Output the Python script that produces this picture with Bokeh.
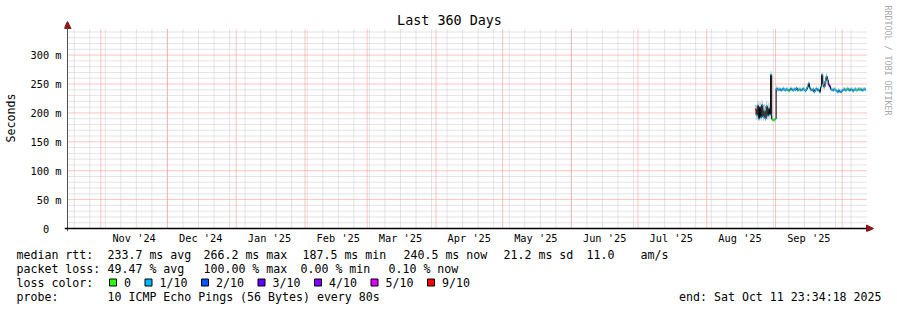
import math
from datetime import datetime, timedelta

from bokeh.plotting import figure
from bokeh.models import (Range1d, FixedTicker, DatetimeTickFormatter, Label,
                          Arrow, NormalHead, ColumnDataSource)
from bokeh.layouts import column
from bokeh.core.properties import value
from bokeh.embed import file_html
from bokeh.resources import INLINE

# ---------------------------------------------------------------- data
end_time = datetime(2025, 10, 11, 23, 34, 18)
span_days = 360
start_time = end_time - timedelta(days=span_days)

sample_start = datetime(2025, 8, 23, 0, 0)
sample_step_hours = 12

median_rtt_ms = [
    206, 196, 213, 190, 210, 192, 214, 193, 204, 190,
    212, 195, 208, 197, 266, 189, 187.5, 188, 190, 242,
    241, 240, 241, 239, 240, 242, 240, 239, 241, 240,
    238, 240, 242, 240, 239, 241, 240, 243, 239, 240,
    241, 239, 240, 242, 240, 238, 241, 245, 251, 243,
    240, 239, 241, 236, 240, 242, 239, 240, 236, 245,
    266, 250, 245, 255, 263, 257, 249, 246, 241, 240,
    239, 241, 240, 238, 236, 239, 237, 236, 238, 240,
    241, 239, 240, 242, 240, 239, 241, 240, 238, 240,
    241, 239, 240, 241, 240, 241, 239, 240, 241, 240.5,
]
smoke_low_ms = [
    198, 188, 195, 186, 192, 187, 196, 187, 190, 186,
    194, 188, 192, 189, 200, 186, 185, 185, 186, 236,
    237, 237, 238, 236, 237, 238, 237, 236, 238, 237,
    235, 237, 238, 237, 236, 238, 237, 239, 236, 237,
    238, 236, 237, 238, 237, 235, 238, 240, 243, 239,
    237, 236, 238, 233, 237, 238, 236, 237, 233, 240,
    246, 242, 240, 247, 250, 250, 244, 242, 238, 237,
    236, 238, 237, 235, 233, 236, 234, 233, 235, 237,
    238, 236, 237, 238, 237, 236, 238, 237, 235, 237,
    238, 236, 237, 238, 237, 238, 236, 237, 238, 237,
]
smoke_high_ms = [
    214, 208, 220, 205, 219, 206, 222, 209, 216, 203,
    220, 211, 218, 214, 272, 195, 190, 191, 194, 247,
    245, 244, 245, 243, 244, 246, 244, 243, 245, 244,
    242, 244, 246, 244, 243, 245, 244, 247, 243, 244,
    245, 243, 244, 246, 244, 242, 245, 249, 255, 247,
    244, 243, 245, 241, 244, 246, 243, 244, 241, 249,
    270, 256, 249, 260, 268, 262, 253, 250, 245, 244,
    243, 245, 244, 242, 240, 243, 241, 240, 242, 244,
    245, 243, 244, 246, 244, 243, 245, 244, 242, 244,
    245, 243, 244, 245, 244, 245, 243, 244, 245, 244,
]
loss_tenths = [
    9, 1, 1, 1, 2, 1, 1, 1, 1, 1,
    1, 1, 1, 1, 1, 0, 0, 0, 1, 1,
    1, 1, 1, 1, 1, 1, 1, 1, 1, 1,
    0, 1, 1, 1, 1, 1, 1, 1, 1, 1,
    0, 1, 1, 1, 1, 1, 1, 1, 1, 1,
    1, 1, 1, 1, 1, 1, 1, 1, 1, 1,
    1, 1, 1, 1, 1, 1, 3, 3, 1, 1,
    1, 1, 1, 1, 1, 1, 1, 1, 1, 1,
    1, 1, 1, 0, 1, 1, 1, 1, 1, 1,
    1, 0, 1, 1, 0, 1, 1, 1, 1, 1,
]

loss_levels = [0, 1, 2, 3, 4, 5, 9]
loss_labels = ["0", "1/10", "2/10", "3/10", "4/10", "5/10", "9/10"]
loss_colors = ["#26ff00", "#00b8ff", "#0059ff", "#5e00ff", "#7e00ff", "#dd00ff", "#ff0000"]

y_ticks = [0, 50, 100, 150, 200, 250, 300]
y_tick_labels = ["0\u00a0\u00a0", "50 m", "100 m", "150 m", "200 m", "250 m", "300 m"]
y_grid_top = 346.06

title_text = "Last 360 Days"
y_axis_title = "Seconds"
watermark = "RRDTOOL / TOBI OETIKER"

stat_rows = [
    [("median rtt:", 16), ("233.7 ms avg", 107), ("266.2 ms max", 203),
     ("187.5 ms min", 302), ("240.5 ms now", 403), ("21.2 ms sd", 503),
     ("11.0", 586), ("am/s", 640)],
    [("packet loss:", 16), ("49.47 % avg", 107), ("100.00 % max", 203),
     ("0.00 % min", 300), ("0.10 % now", 388)],
]
loss_row_title = "loss color:"
probe_title = "probe:"
probe_text = "10 ICMP Echo Pings (56 Bytes) every 80s"
end_text = "end: Sat Oct 11 23:34:18 2025"

# ---------------------------------------------------------------- helpers
EPOCH = datetime(1970, 1, 1)


def to_ms(d):
    return (d - EPOCH).total_seconds() * 1000.0


DAY_MS = 86400000.0
MONO = "DejaVu Sans Mono"

W = 897
H_MAIN = 248
H_LEG = 310 - H_MAIN
AXIS_X = 66          # pixel column of the y axis
AXIS_Y = 228         # pixel row of the x axis
PAD = 3              # axis lines overshoot the origin by this much
FRAME_LEFT = AXIS_X - PAD
FRAME_TOP = 4
FRAME_BOTTOM = AXIS_Y + PAD
FRAME_W = W - FRAME_LEFT
FRAME_H = FRAME_BOTTOM - FRAME_TOP
PX_PER_DAY = 800.0 / span_days
MS_PER_PX = y_grid_top / 200.0
PX_MS = DAY_MS / PX_PER_DAY   # time per pixel

t0 = to_ms(start_time)
t1 = to_ms(end_time)
x_start = t0 - PAD * PX_MS
x_end = x_start + FRAME_W * PX_MS
y_start = -PAD * MS_PER_PX
y_end = y_start + FRAME_H * MS_PER_PX
x_axis_end = t1 + 7 * PX_MS
y_axis_end = (AXIS_Y - 21) * MS_PER_PX

times = [to_ms(sample_start + timedelta(hours=sample_step_hours * i)) for i in range(len(median_rtt_ms))]
half = sample_step_hours * 3600000.0 / 2
color_of = dict(zip(loss_levels, loss_colors))

# grid positions derived from the calendar
sundays = []
d = datetime(start_time.year, start_time.month, start_time.day) + timedelta(days=1)
while d.weekday() != 6:
    d += timedelta(days=1)
while to_ms(d) < t1:
    sundays.append(to_ms(d))
    d += timedelta(days=7)

month_starts = []
yy, mm = start_time.year, start_time.month + 1
while True:
    if mm > 12:
        yy, mm = yy + 1, 1
    v = to_ms(datetime(yy, mm, 1))
    if v >= t1:
        break
    month_starts.append(v)
    mm += 1
label_ticks = [v + 15 * DAY_MS for v in month_starts if v + 15 * DAY_MS < t1]

minor_y = [v for v in range(10, int(y_grid_top), 10) if v % 50 != 0]
major_y = [v for v in y_ticks if v > 0]

# ---------------------------------------------------------------- main figure
p = figure(width=W, height=H_MAIN, x_axis_type="datetime",
           x_range=Range1d(x_start, x_end), y_range=Range1d(y_start, y_end),
           output_backend="svg", toolbar_location=None, frame_align=False,
           min_border_left=FRAME_LEFT, min_border_right=0,
           min_border_top=FRAME_TOP, min_border_bottom=H_MAIN - FRAME_BOTTOM)
p.xgrid.visible = False
p.ygrid.visible = False
p.outline_line_color = None
p.background_fill_color = "white"
p.border_fill_color = "white"

minor_col = "#c8c8c8"
major_col = "#ff8888"
p.segment(x0=sundays, x1=sundays, y0=0, y1=y_grid_top, line_color=minor_col,
          line_dash="1 1", line_width=1)
p.segment(x0=t0, x1=t1, y0=minor_y, y1=minor_y, line_color=minor_col,
          line_dash="1 1", line_width=1)
p.segment(x0=month_starts, x1=month_starts, y0=0, y1=y_grid_top, line_color=major_col,
          line_dash="1 1", line_width=1)
p.segment(x0=t0, x1=t1, y0=major_y, y1=major_y, line_color=major_col,
          line_dash="1 1", line_width=1)

src = ColumnDataSource(dict(
    t=times, med=median_rtt_ms, lo=smoke_low_ms, hi=smoke_high_ms,
    t0=[t - half for t in times], t1=[t + half for t in times],
    c=[color_of[v] for v in loss_tenths]))
p.vbar(x="t", width=2 * half, bottom="lo", top="hi", source=src,
       fill_color="#c4c4c4", line_color=None)
p.step(x="t", y="med", mode="center", source=src, line_color="black", line_width=1)
p.segment(x0="t0", x1="t1", y0="med", y1="med", source=src, line_color="c",
          line_width=2)

for ax in (p.xaxis, p.yaxis):
    ax.axis_line_color = None
    ax.major_tick_line_color = None
    ax.minor_tick_line_color = None
    ax.major_tick_out = 0
    ax.major_tick_in = 0
    ax.minor_tick_out = 0
    ax.minor_tick_in = 0
    ax.major_label_text_font = MONO
    ax.major_label_text_font_size = "10.3px"
    ax.major_label_text_color = "black"

p.xaxis.ticker = FixedTicker(ticks=label_ticks)
fmt = "%b '%y"
p.xaxis.formatter = DatetimeTickFormatter(
    microseconds=fmt, milliseconds=fmt, seconds=fmt, minsec=fmt, minutes=fmt,
    hourmin=fmt, hours=fmt, days=fmt, months=fmt, years=fmt)
p.xaxis.major_label_standoff = 0

p.yaxis.ticker = FixedTicker(ticks=y_ticks)
p.yaxis.major_label_overrides = dict(zip(y_ticks, y_tick_labels))
p.yaxis.major_label_standoff = 3
p.yaxis.axis_label = y_axis_title
p.yaxis.axis_label_text_font = MONO
p.yaxis.axis_label_text_font_size = "11.6px"
p.yaxis.axis_label_text_font_style = "normal"
p.yaxis.axis_label_text_color = "black"
p.yaxis.axis_label_standoff = 10

arrow_red = "#8b1a1a"
# axis lines with arrow heads
p.add_layout(Arrow(x_start=t0, y_start=y_start, x_end=t0, y_end=y_axis_end,
                   line_color="#505050", line_width=1,
                   end=NormalHead(size=7, fill_color=arrow_red, line_color=arrow_red)))
p.add_layout(Arrow(x_start=x_start, y_start=0, x_end=x_axis_end, y_end=0,
                   line_color="black", line_width=1.5,
                   end=NormalHead(size=7, fill_color=arrow_red, line_color=arrow_red)))

p.add_layout(Label(x=448 - FRAME_LEFT, y=FRAME_BOTTOM - 20, x_units="screen", y_units="screen",
                   text=title_text, text_font=MONO, text_font_size="13.4px",
                   text_align="center", text_baseline="middle", text_color="black"))
p.add_layout(Label(x=886 - FRAME_LEFT, y=FRAME_BOTTOM - 5, x_units="screen", y_units="screen",
                   text=watermark, text_font=MONO, text_font_size="8.3px", angle=-math.pi / 2,
                   text_align="left", text_baseline="middle", text_color="#a8a8a8"))

# ---------------------------------------------------------------- legend figure
q = figure(width=W, height=H_LEG, x_range=Range1d(0, W), y_range=Range1d(H_LEG, 0),
           output_backend="svg", toolbar_location=None, frame_align=False,
           x_axis_location=None, y_axis_location=None,
           min_border_left=0, min_border_right=0, min_border_top=0, min_border_bottom=0)
q.outline_line_color = None
q.background_fill_color = "white"
q.border_fill_color = "white"
q.xgrid.visible = False
q.ygrid.visible = False

ROW_Y0 = 254 - H_MAIN
ROW_DY = 14
CHAR_W = 7.0

tx, ty, tt = [], [], []
for r, row in enumerate(stat_rows):
    for text, x in row:
        tx.append(x)
        ty.append(ROW_Y0 + r * ROW_DY)
        tt.append(text)
tx += [16, 16, 107]
ty += [ROW_Y0 + 2 * ROW_DY, ROW_Y0 + 3 * ROW_DY + 0.5, ROW_Y0 + 3 * ROW_DY + 0.5]
tt += [loss_row_title, probe_title, probe_text]

sq_x, sq_c = [], []
cx = 109.0
for lab, col in zip(loss_labels, loss_colors):
    sq_x.append(cx + 3.5)
    sq_c.append(col)
    lx = cx + 14.5
    tx.append(lx)
    ty.append(ROW_Y0 + 2 * ROW_DY)
    tt.append(lab)
    cx = lx + len(lab) * CHAR_W + 14

q.text(x=tx, y=ty, text=tt, text_font=value(MONO), text_font_size="11.6px",
       text_baseline="middle", text_align="left", text_color="black")
q.text(x=[881], y=[ROW_Y0 + 3 * ROW_DY + 0.5], text=[end_text], text_font=value(MONO),
       text_font_size="11.6px", text_baseline="middle", text_align="right", text_color="black")
q.rect(x=sq_x, y=ROW_Y0 + 2 * ROW_DY, width=7, height=7, fill_color=sq_c,
       line_color="black", line_width=1)

layout = column(p, q, spacing=0)
open("out.html", "w").write(file_html(layout, INLINE))
